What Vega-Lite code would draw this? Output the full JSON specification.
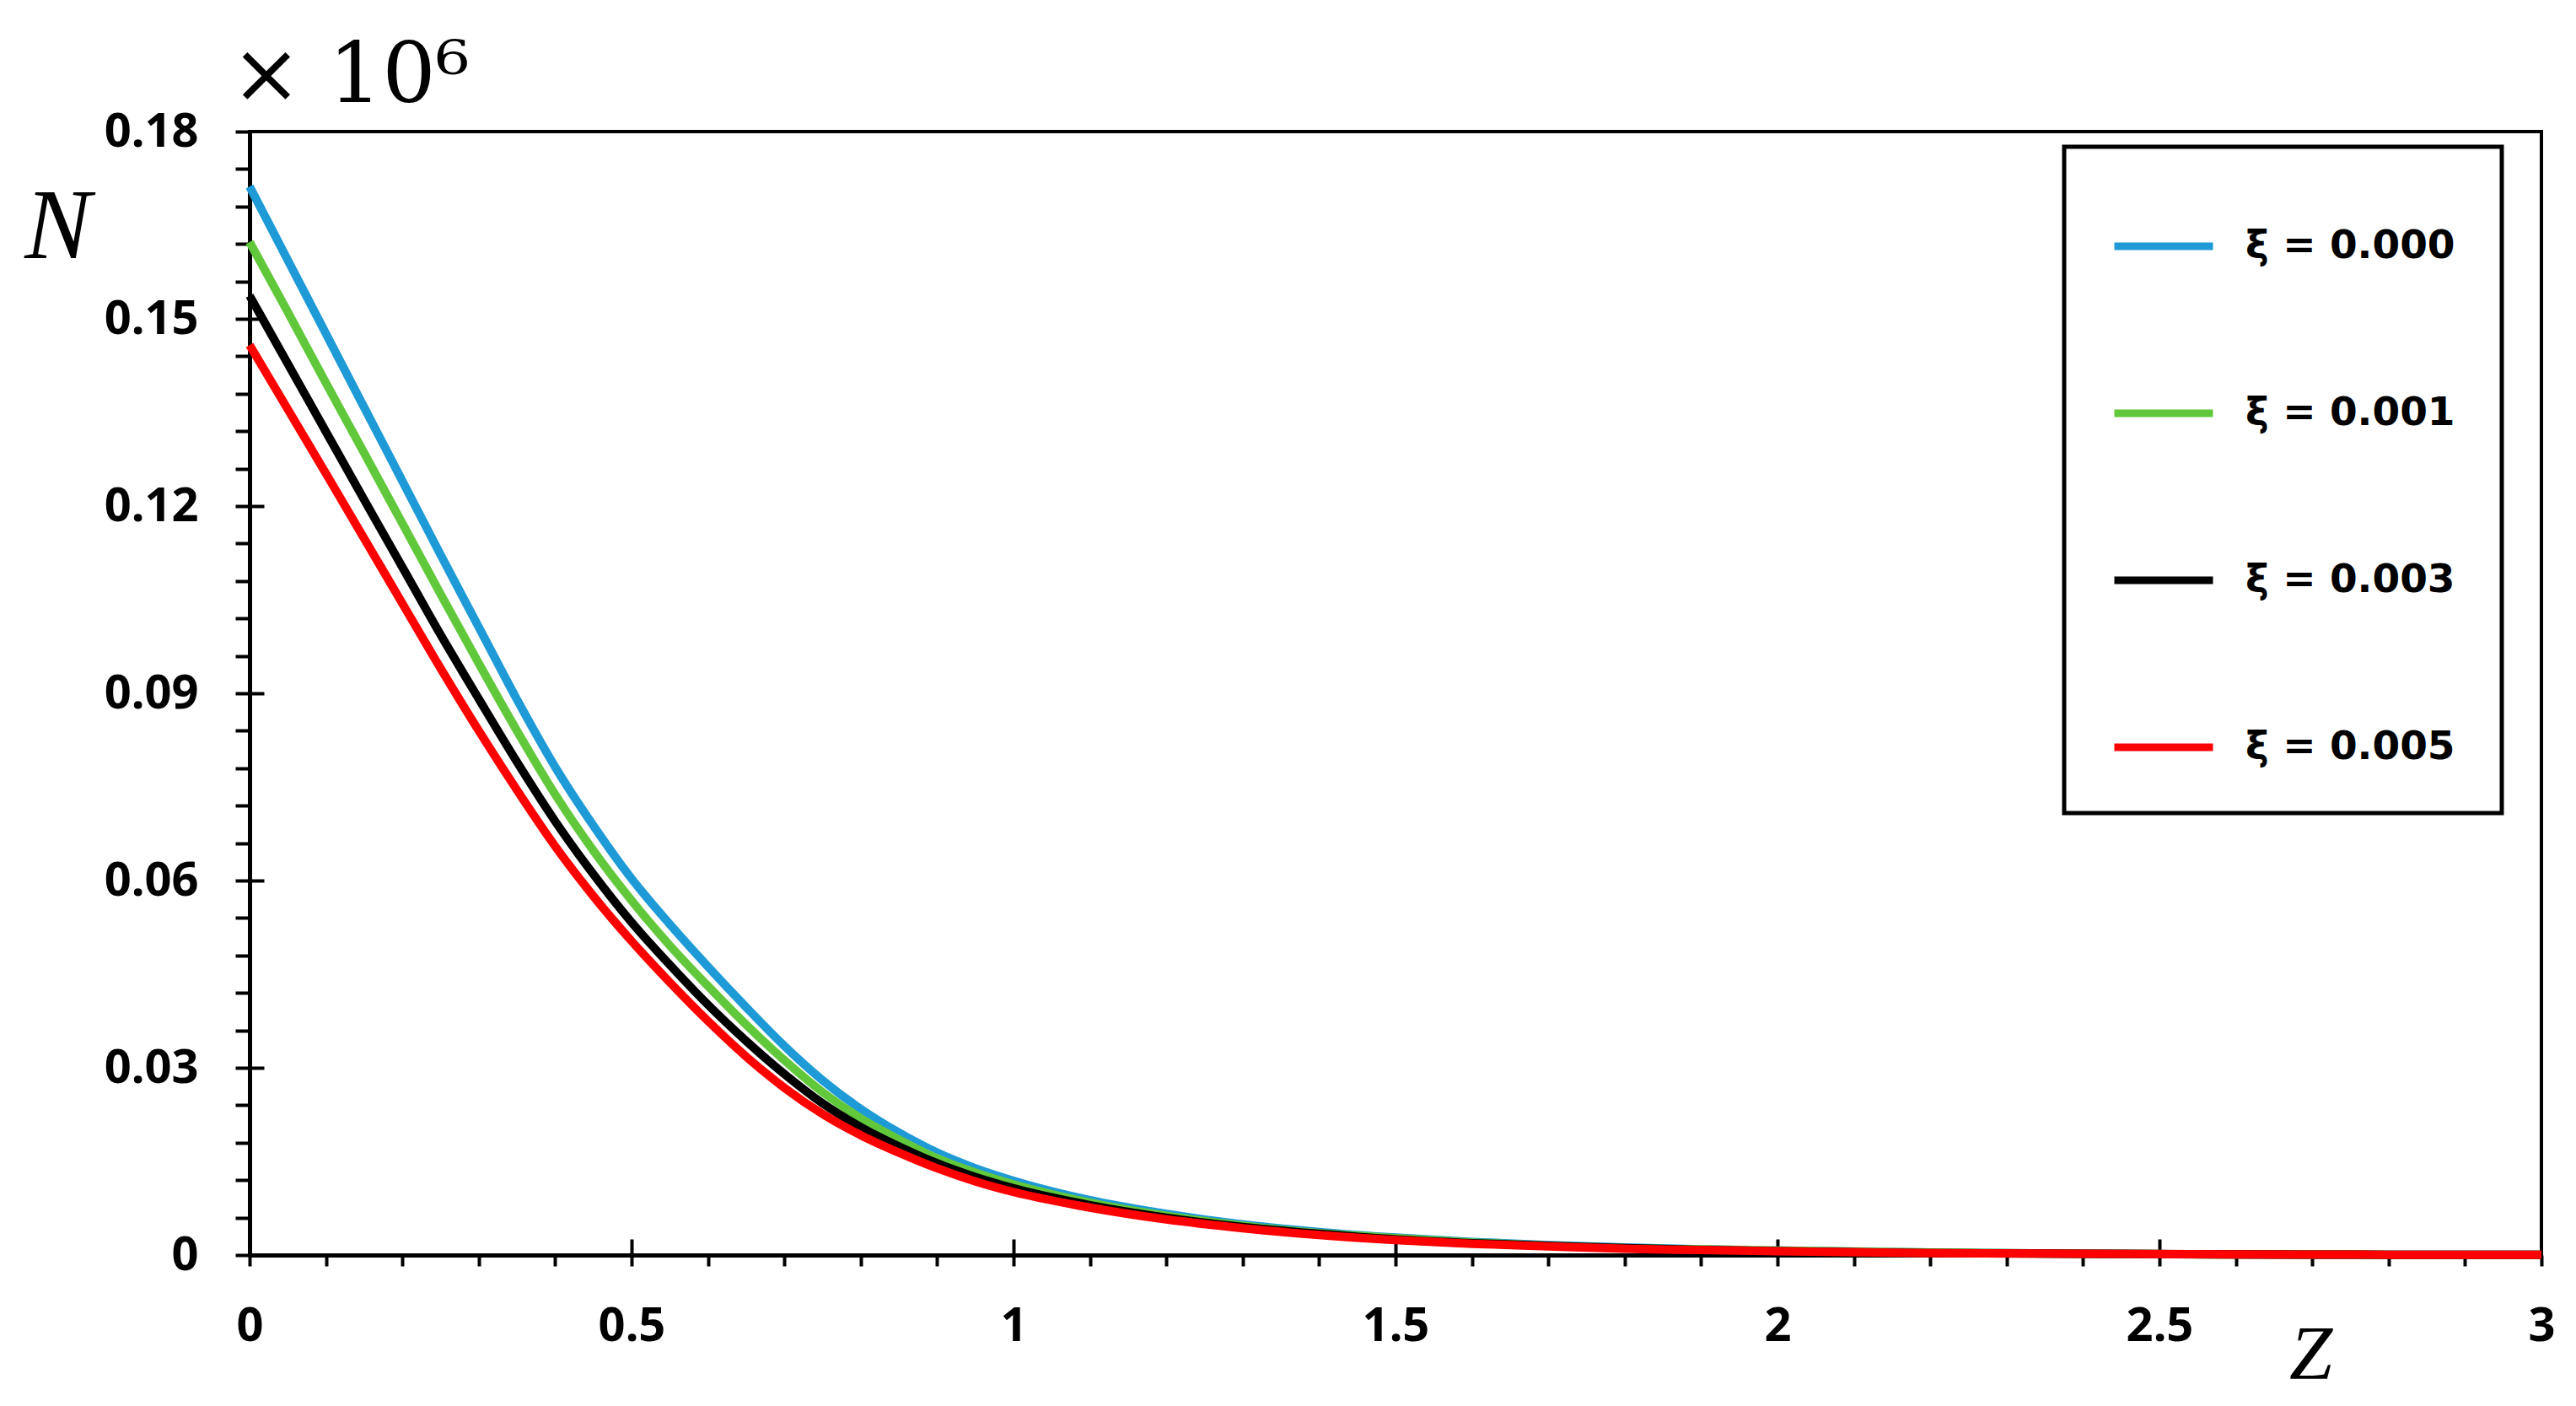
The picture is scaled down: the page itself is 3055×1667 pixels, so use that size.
{
  "$schema": "https://vega.github.io/schema/vega-lite/v6.json",
  "autosize": {"type": "none"},
  "width": 2718,
  "height": 1332,
  "padding": {"left": 296, "top": 156, "right": 41, "bottom": 179},
  "background": "white",
  "title": {"text": "× 10⁶", "anchor": "start", "frame": "group", "font": "DejaVu Serif", "fontSize": 100, "fontWeight": "normal", "color": "black", "baseline": "alphabetic", "offset": 8, "dx": -22, "dy": 101},
  "data": {"values": [
    {"z":0,"N":0.1712,"xi":"ξ = 0.000"},{"z":0.05,"N":0.1594,"xi":"ξ = 0.000"},{"z":0.1,"N":0.1476,"xi":"ξ = 0.000"},{"z":0.15,"N":0.1358,"xi":"ξ = 0.000"},{"z":0.2,"N":0.1240,"xi":"ξ = 0.000"},{"z":0.25,"N":0.1122,"xi":"ξ = 0.000"},{"z":0.3,"N":0.1006,"xi":"ξ = 0.000"},{"z":0.35,"N":0.0890,"xi":"ξ = 0.000"},{"z":0.4,"N":0.0782,"xi":"ξ = 0.000"},{"z":0.45,"N":0.0688,"xi":"ξ = 0.000"},{"z":0.5,"N":0.0603,"xi":"ξ = 0.000"},{"z":0.55,"N":0.0530,"xi":"ξ = 0.000"},{"z":0.6,"N":0.0462,"xi":"ξ = 0.000"},{"z":0.65,"N":0.0397,"xi":"ξ = 0.000"},{"z":0.7,"N":0.0335,"xi":"ξ = 0.000"},{"z":0.75,"N":0.0280,"xi":"ξ = 0.000"},{"z":0.8,"N":0.0234,"xi":"ξ = 0.000"},{"z":0.85,"N":0.0196,"xi":"ξ = 0.000"},{"z":0.9,"N":0.0164,"xi":"ξ = 0.000"},{"z":0.95,"N":0.0139,"xi":"ξ = 0.000"},{"z":1.0,"N":0.0119,"xi":"ξ = 0.000"},{"z":1.1,"N":0.0088,"xi":"ξ = 0.000"},{"z":1.2,"N":0.0066,"xi":"ξ = 0.000"},{"z":1.3,"N":0.0049,"xi":"ξ = 0.000"},{"z":1.4,"N":0.0037,"xi":"ξ = 0.000"},{"z":1.5,"N":0.0028,"xi":"ξ = 0.000"},{"z":1.6,"N":0.0021,"xi":"ξ = 0.000"},{"z":1.7,"N":0.0016,"xi":"ξ = 0.000"},{"z":1.8,"N":0.0012,"xi":"ξ = 0.000"},{"z":1.9,"N":0.0009,"xi":"ξ = 0.000"},{"z":2.0,"N":0.0007,"xi":"ξ = 0.000"},{"z":2.2,"N":0.0004,"xi":"ξ = 0.000"},{"z":2.4,"N":0.0002,"xi":"ξ = 0.000"},{"z":2.6,"N":0.0001,"xi":"ξ = 0.000"},{"z":2.8,"N":0.00005,"xi":"ξ = 0.000"},{"z":3.0,"N":0.00003,"xi":"ξ = 0.000"},
    {"z":0,"N":0.1623,"xi":"ξ = 0.001"},{"z":0.05,"N":0.1511,"xi":"ξ = 0.001"},{"z":0.1,"N":0.1397,"xi":"ξ = 0.001"},{"z":0.15,"N":0.1285,"xi":"ξ = 0.001"},{"z":0.2,"N":0.1172,"xi":"ξ = 0.001"},{"z":0.25,"N":0.1059,"xi":"ξ = 0.001"},{"z":0.3,"N":0.0948,"xi":"ξ = 0.001"},{"z":0.35,"N":0.0840,"xi":"ξ = 0.001"},{"z":0.4,"N":0.0738,"xi":"ξ = 0.001"},{"z":0.45,"N":0.0648,"xi":"ξ = 0.001"},{"z":0.5,"N":0.0568,"xi":"ξ = 0.001"},{"z":0.55,"N":0.0496,"xi":"ξ = 0.001"},{"z":0.6,"N":0.0431,"xi":"ξ = 0.001"},{"z":0.65,"N":0.0369,"xi":"ξ = 0.001"},{"z":0.7,"N":0.0312,"xi":"ξ = 0.001"},{"z":0.75,"N":0.0261,"xi":"ξ = 0.001"},{"z":0.8,"N":0.0219,"xi":"ξ = 0.001"},{"z":0.85,"N":0.0185,"xi":"ξ = 0.001"},{"z":0.9,"N":0.0155,"xi":"ξ = 0.001"},{"z":0.95,"N":0.0132,"xi":"ξ = 0.001"},{"z":1.0,"N":0.0113,"xi":"ξ = 0.001"},{"z":1.1,"N":0.0084,"xi":"ξ = 0.001"},{"z":1.2,"N":0.0063,"xi":"ξ = 0.001"},{"z":1.3,"N":0.0047,"xi":"ξ = 0.001"},{"z":1.4,"N":0.0035,"xi":"ξ = 0.001"},{"z":1.5,"N":0.0027,"xi":"ξ = 0.001"},{"z":1.6,"N":0.0020,"xi":"ξ = 0.001"},{"z":1.7,"N":0.0015,"xi":"ξ = 0.001"},{"z":1.8,"N":0.0011,"xi":"ξ = 0.001"},{"z":1.9,"N":0.0009,"xi":"ξ = 0.001"},{"z":2.0,"N":0.0007,"xi":"ξ = 0.001"},{"z":2.2,"N":0.0004,"xi":"ξ = 0.001"},{"z":2.4,"N":0.0002,"xi":"ξ = 0.001"},{"z":2.6,"N":0.0001,"xi":"ξ = 0.001"},{"z":2.8,"N":0.00005,"xi":"ξ = 0.001"},{"z":3.0,"N":0.00003,"xi":"ξ = 0.001"},
    {"z":0,"N":0.1537,"xi":"ξ = 0.003"},{"z":0.05,"N":0.1428,"xi":"ξ = 0.003"},{"z":0.1,"N":0.1319,"xi":"ξ = 0.003"},{"z":0.15,"N":0.1210,"xi":"ξ = 0.003"},{"z":0.2,"N":0.1102,"xi":"ξ = 0.003"},{"z":0.25,"N":0.0994,"xi":"ξ = 0.003"},{"z":0.3,"N":0.0891,"xi":"ξ = 0.003"},{"z":0.35,"N":0.0790,"xi":"ξ = 0.003"},{"z":0.4,"N":0.0695,"xi":"ξ = 0.003"},{"z":0.45,"N":0.0610,"xi":"ξ = 0.003"},{"z":0.5,"N":0.0533,"xi":"ξ = 0.003"},{"z":0.55,"N":0.0465,"xi":"ξ = 0.003"},{"z":0.6,"N":0.0401,"xi":"ξ = 0.003"},{"z":0.65,"N":0.0343,"xi":"ξ = 0.003"},{"z":0.7,"N":0.0290,"xi":"ξ = 0.003"},{"z":0.75,"N":0.0243,"xi":"ξ = 0.003"},{"z":0.8,"N":0.0205,"xi":"ξ = 0.003"},{"z":0.85,"N":0.0174,"xi":"ξ = 0.003"},{"z":0.9,"N":0.0147,"xi":"ξ = 0.003"},{"z":0.95,"N":0.0125,"xi":"ξ = 0.003"},{"z":1.0,"N":0.0107,"xi":"ξ = 0.003"},{"z":1.1,"N":0.0080,"xi":"ξ = 0.003"},{"z":1.2,"N":0.0060,"xi":"ξ = 0.003"},{"z":1.3,"N":0.0045,"xi":"ξ = 0.003"},{"z":1.4,"N":0.0034,"xi":"ξ = 0.003"},{"z":1.5,"N":0.0025,"xi":"ξ = 0.003"},{"z":1.6,"N":0.0019,"xi":"ξ = 0.003"},{"z":1.7,"N":0.0015,"xi":"ξ = 0.003"},{"z":1.8,"N":0.0011,"xi":"ξ = 0.003"},{"z":1.9,"N":0.0008,"xi":"ξ = 0.003"},{"z":2.0,"N":0.0006,"xi":"ξ = 0.003"},{"z":2.2,"N":0.0003,"xi":"ξ = 0.003"},{"z":2.4,"N":0.0002,"xi":"ξ = 0.003"},{"z":2.6,"N":0.0001,"xi":"ξ = 0.003"},{"z":2.8,"N":0.00005,"xi":"ξ = 0.003"},{"z":3.0,"N":0.00003,"xi":"ξ = 0.003"},
    {"z":0,"N":0.1458,"xi":"ξ = 0.005"},{"z":0.05,"N":0.1355,"xi":"ξ = 0.005"},{"z":0.1,"N":0.1252,"xi":"ξ = 0.005"},{"z":0.15,"N":0.1148,"xi":"ξ = 0.005"},{"z":0.2,"N":0.1044,"xi":"ξ = 0.005"},{"z":0.25,"N":0.0940,"xi":"ξ = 0.005"},{"z":0.3,"N":0.0840,"xi":"ξ = 0.005"},{"z":0.35,"N":0.0745,"xi":"ξ = 0.005"},{"z":0.4,"N":0.0655,"xi":"ξ = 0.005"},{"z":0.45,"N":0.0575,"xi":"ξ = 0.005"},{"z":0.5,"N":0.0503,"xi":"ξ = 0.005"},{"z":0.55,"N":0.0437,"xi":"ξ = 0.005"},{"z":0.6,"N":0.0375,"xi":"ξ = 0.005"},{"z":0.65,"N":0.0318,"xi":"ξ = 0.005"},{"z":0.7,"N":0.0268,"xi":"ξ = 0.005"},{"z":0.75,"N":0.0226,"xi":"ξ = 0.005"},{"z":0.8,"N":0.0192,"xi":"ξ = 0.005"},{"z":0.85,"N":0.0164,"xi":"ξ = 0.005"},{"z":0.9,"N":0.0139,"xi":"ξ = 0.005"},{"z":0.95,"N":0.0118,"xi":"ξ = 0.005"},{"z":1.0,"N":0.0101,"xi":"ξ = 0.005"},{"z":1.1,"N":0.0076,"xi":"ξ = 0.005"},{"z":1.2,"N":0.0057,"xi":"ξ = 0.005"},{"z":1.3,"N":0.0043,"xi":"ξ = 0.005"},{"z":1.4,"N":0.0032,"xi":"ξ = 0.005"},{"z":1.5,"N":0.0024,"xi":"ξ = 0.005"},{"z":1.6,"N":0.0018,"xi":"ξ = 0.005"},{"z":1.7,"N":0.0014,"xi":"ξ = 0.005"},{"z":1.8,"N":0.0010,"xi":"ξ = 0.005"},{"z":1.9,"N":0.0008,"xi":"ξ = 0.005"},{"z":2.0,"N":0.0006,"xi":"ξ = 0.005"},{"z":2.2,"N":0.0003,"xi":"ξ = 0.005"},{"z":2.4,"N":0.0002,"xi":"ξ = 0.005"},{"z":2.6,"N":0.0001,"xi":"ξ = 0.005"},{"z":2.8,"N":0.00005,"xi":"ξ = 0.005"},{"z":3.0,"N":0.00003,"xi":"ξ = 0.005"}
  ]},
  "layer": [
    {
      "mark": {"type": "line", "strokeWidth": 10, "interpolate": "monotone"},
      "encoding": {
        "x": {"field": "z", "type": "quantitative", "scale": {"domain": [0, 3], "nice": false, "zero": false},
          "axis": {"values": [0,0.1,0.2,0.3,0.4,0.5,0.6,0.7,0.8,0.9,1,1.1,1.2,1.3,1.4,1.5,1.6,1.7,1.8,1.9,2,2.1,2.2,2.3,2.4,2.5,2.6,2.7,2.8,2.9,3],
            "labelExpr": "round(datum.value*10) % 5 == 0 ? '' + round(datum.value*10)/10 : ''",
            "tickSize": 13, "labelPadding": 44, "labelFlush": false, "labelOverlap": false,
            "title": "Z", "titleFont": "Liberation Serif", "titleFontStyle": "italic", "titleFontWeight": "normal", "titleFontSize": 92,
            "titleX": 2444, "titleY": 118, "titleAlign": "center", "titleBaseline": "middle", "titleAngle": 0}},
        "y": {"field": "N", "type": "quantitative", "scale": {"domain": [0, 0.18], "nice": false},
          "axis": {"values": [0,0.006,0.012,0.018,0.024,0.03,0.036,0.042,0.048,0.054,0.06,0.066,0.072,0.078,0.084,0.09,0.096,0.102,0.108,0.114,0.12,0.126,0.132,0.138,0.144,0.15,0.156,0.162,0.168,0.174,0.18],
            "labelExpr": "round(datum.value*1000) % 30 == 0 ? (datum.value == 0 ? '0' : format(datum.value, '.2f')) : ''",
            "tickSize": 17, "labelPadding": 44, "labelFlush": false, "labelOverlap": false,
            "title": "N", "titleFont": "Liberation Serif", "titleFontStyle": "italic", "titleFontWeight": "normal", "titleFontSize": 118,
            "titleX": -228, "titleY": 114, "titleAlign": "center", "titleBaseline": "middle", "titleAngle": 0}},
        "color": {"field": "xi", "type": "nominal",
          "scale": {"domain": ["ξ = 0.000", "ξ = 0.001", "ξ = 0.003", "ξ = 0.005"], "range": ["#1E9AD6", "#62C83B", "#000000", "#FF0000"]},
          "legend": {"orient": "none", "legendX": 2152, "legendY": 18, "title": null,
            "strokeColor": "black", "fillColor": "white", "padding": 55,
            "symbolType": "stroke", "symbolSize": 13689, "symbolStrokeWidth": 9,
            "labelFont": "DejaVu Sans", "labelFontWeight": "bold", "labelFontSize": 47, "labelColor": "black",
            "labelOffset": 34, "rowPadding": 112, "labelLimit": 1000,
            "encode": {"legend": {"update": {"strokeWidth": {"value": 5}}}}}}
      }
    },
    {
      "mark": {"type": "line", "opacity": 0},
      "encoding": {
        "x": {"field": "z", "type": "quantitative", "scale": {"domain": [0, 3], "nice": false, "zero": false},
          "axis": {"orient": "bottom", "values": [0.5, 1, 1.5, 2, 2.5], "tickSize": -19, "labels": false, "domain": false, "title": null}},
        "y": {"field": "N", "type": "quantitative", "scale": {"domain": [0, 0.18], "nice": false},
          "axis": {"orient": "left", "values": [0.03, 0.06, 0.09, 0.12, 0.15], "tickSize": -17, "labels": false, "domain": false, "title": null}},
        "detail": {"field": "xi"}
      }
    }
  ],
  "resolve": {"axis": {"x": "independent", "y": "independent"}},
  "config": {
    "view": {"stroke": "black", "strokeWidth": 4},
    "axis": {"grid": false, "domainColor": "black", "domainWidth": 5, "tickColor": "black", "tickWidth": 4,
      "labelFont": "Noto Sans", "labelFontWeight": "bold", "labelFontSize": 56, "labelColor": "black", "titleColor": "black"}
  }
}
